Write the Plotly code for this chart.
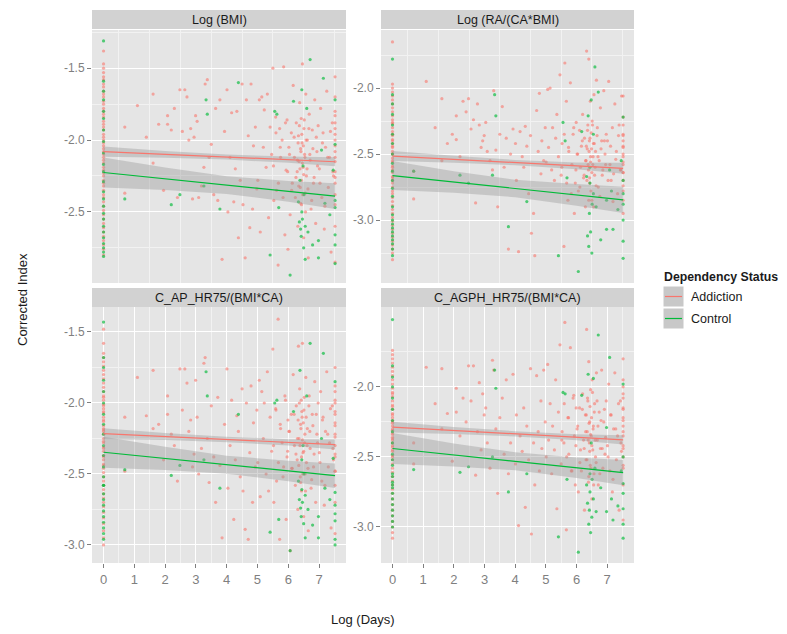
import plotly.graph_objects as go

W, H = 787, 634
OFF = 8  # page body margin of the browser
RED = "#F8766D"
GREEN = "#00BA38"
RED_PT = "rgba(248,118,109,0.6)"
GREEN_PT = "rgba(0,186,56,0.65)"
FONT = "Liberation Sans, Arial, sans-serif"

PANEL_TITLES = ["Log (BMI)", "Log (RA/(CA*BMI)", "C_AP_HR75/(BMI*CA)", "C_AGPH_HR75/(BMI*CA)"]
GROUPS = ["Addiction", "Control"]

# shared x (Log Days) of scattered subjects
A_X = [0.69, 0.69, 1.10, 1.39, 1.61, 1.61, 1.79, 1.95, 2.08, 2.08, 2.20, 2.30, 2.40, 2.48, 2.56, 2.64, 2.71, 2.77, 2.83, 2.89, 2.94, 2.99,
       3.04, 3.09, 3.18, 3.26, 3.30, 3.37, 3.43, 3.50, 3.58, 3.64, 3.71, 3.78, 3.85, 3.93,
       4.01, 4.04, 4.11, 4.16, 4.23, 4.28, 4.33, 4.38, 4.44, 4.50, 4.53, 4.60, 4.64, 4.70, 4.75, 4.79, 4.84, 4.87, 4.93, 4.98,
       5.01, 5.06, 5.09, 5.14, 5.19, 5.22, 5.28, 5.32, 5.36, 5.41, 5.46, 5.50, 5.53, 5.59, 5.62, 5.67, 5.72, 5.75, 5.80, 5.85, 5.89, 5.93, 5.96, 5.99,
       6.02, 6.06, 6.10, 6.13, 6.16, 6.20, 6.23, 6.26, 6.29, 6.31, 6.33, 6.35, 6.37, 6.39, 6.40, 6.42, 6.43, 6.45, 6.46, 6.48, 6.50, 6.51, 6.53, 6.55, 6.57, 6.59, 6.62, 6.65, 6.68, 6.71, 6.74, 6.78, 6.82, 6.86, 6.89, 6.93, 6.97,
       7.01, 7.05, 7.09, 7.13, 7.17, 7.21, 7.25, 7.30, 7.34, 7.39, 7.43, 7.47,
       7.52, 7.52, 7.52, 7.52, 7.52, 7.52, 7.52, 7.52, 7.52, 7.52, 7.52, 7.52]
# further addiction subjects in the dense late cluster
A_X2 = [5.52, 5.60, 5.68, 5.74, 5.83, 5.91, 5.98, 6.04, 6.11, 6.19, 6.25,
        6.30, 6.32, 6.34, 6.36, 6.38, 6.40, 6.41, 6.43, 6.44, 6.46, 6.47, 6.49, 6.50, 6.52, 6.54, 6.56, 6.58,
        6.61, 6.64, 6.67, 6.70, 6.76, 6.80, 6.84, 6.91, 6.95, 7.03, 7.11, 7.19, 7.28, 7.37, 7.45,
        7.52, 7.52, 7.52, 7.52, 7.52, 7.52, 7.52]
C_X = [0.69, 2.20, 2.48, 3.26, 3.33, 3.37, 3.78, 4.38, 5.41, 5.56, 5.63, 5.69, 6.06, 6.17, 6.33, 6.36, 6.38, 6.40, 6.42, 6.44, 6.44, 6.46, 6.48, 6.50, 6.51,
       6.55, 6.55, 6.60, 6.64, 6.71, 6.79, 6.98, 6.98, 7.08, 7.14, 7.19, 7.35, 7.46, 7.52, 7.52, 7.52, 7.52, 7.52, 7.52, 7.52]

# ---- Log (BMI)
BMI_A0 = [-1.38, -1.47, -1.50, -1.53, -1.56, -1.58, -1.61, -1.63, -1.66, -1.68, -1.70, -1.73, -1.75, -1.78, -1.80, -1.82, -1.84, -1.87, -1.89, -1.91, -1.93, -1.96, -1.98, -2.00, -2.02, -2.04, -2.06, -2.08, -2.10, -2.12, -2.14, -2.16, -2.19, -2.21, -2.23, -2.25, -2.28, -2.30, -2.32, -2.35, -2.38, -2.40, -2.43, -2.46, -2.49, -2.52, -2.55, -2.58, -2.61, -2.64, -2.67, -2.70, -2.73, -2.76, -2.80]
BMI_C0 = [-1.31, -1.59, -1.66, -1.72, -1.80, -1.85, -1.93, -2.01, -2.09, -2.17, -2.22, -2.29, -2.36, -2.41, -2.46, -2.51, -2.55, -2.60, -2.64, -2.68, -2.72, -2.75, -2.78, -2.81]
BMI_A = [-1.91, -2.37, -1.76, -1.98, -1.68, -2.16, -1.89, -2.35, -1.83, -1.89, -1.93, -1.78, -2.40, -1.65, -1.94, -1.65, -1.70, -2.00, -1.92, -2.41, -1.98, -1.83,
         -1.87, -2.40, -2.32, -2.19, -1.61, -1.58, -2.12, -2.03, -2.38, -1.78, -2.42, -1.72, -2.83, -1.94,
         -1.65, -2.50, -2.12, -1.81, -2.43, -2.20, -1.80, -2.68, -2.28, -1.61, -2.45, -2.82, -1.72, -1.97, -2.61, -1.61, -2.48, -2.04, -1.91, -2.34,
         -2.28, -1.72, -2.64, -1.70, -2.05, -1.79, -2.19, -1.68, -2.54, -1.91, -2.10, -1.50, -2.42, -1.84, -2.35, -2.87, -1.92, -2.12, -2.00, -1.49, -2.66, -2.21, -1.86, -2.76,
         -2.05, -2.52, -1.95, -2.30, -1.62, -2.12, -2.40, -1.88, -2.22, -2.60, -1.97, -2.15, -1.74, -2.33, -2.06, -1.85, -2.45, -2.02, -1.47, -2.19, -2.68, -1.92, -2.10, -2.37, -1.68, -2.25, -2.00, -2.82, -1.82, -2.14, -2.48, -1.93, -2.30, -1.72, -2.58, -2.08, -1.90,
         -2.20, -1.78, -2.40, -1.95, -2.62, -2.05, -1.66, -2.33, -2.12, -2.78, -1.88, -2.25,
         -1.56, -1.70, -1.83, -1.92, -2.00, -2.08, -2.15, -2.22, -2.30, -2.45, -2.60, -2.85]
BMI_A2 = [-2.18, -1.95, -2.30, -2.05, -2.40, -1.88, -2.22, -2.10, -2.35, -1.98, -2.26, -2.14, -2.02, -2.32, -1.90, -2.20, -2.44, -2.08, -2.28, -1.96, -2.16, -2.38, -2.04, -2.24, -1.86,
          -2.12, -2.50, -2.00, -2.20, -2.34, -1.92, -2.10, -2.42, -2.06, -2.26, -1.98, -2.18, -2.30, -2.02, -2.46, -2.12, -1.94, -2.22, -1.80, -1.88, -1.96, -2.04, -2.12, -2.26, -2.38]
BMI_C = [-2.41, -2.45, -2.38, -2.32, -1.72, -1.82, -2.48, -1.60, -2.80, -1.80, -1.82, -2.47, -2.94, -1.73, -2.43, -2.57, -2.28, -2.62, -2.67, -1.65, -2.50, -2.55, -2.18, -2.75, -2.38,
         -2.83, -2.60, -1.78, -2.64, -1.44, -2.73, -2.70, -2.82, -2.07, -1.57, -2.44, -2.52, -2.21, -1.72, -2.03, -2.42, -2.47, -2.66, -2.73, -2.86]

# ---- Log (RA/(CA*BMI))
RA_A0 = [-1.65, -1.97, -2.00, -2.03, -2.06, -2.09, -2.12, -2.15, -2.18, -2.21, -2.24, -2.27, -2.30, -2.33, -2.36, -2.39, -2.42, -2.45, -2.48, -2.50, -2.53, -2.56, -2.59, -2.62, -2.64, -2.67, -2.70, -2.72, -2.75, -2.78, -2.80, -2.83, -2.86, -2.89, -2.92, -2.95, -2.98, -3.01, -3.04, -3.07, -3.10, -3.13, -3.16, -3.19, -3.22, -3.25, -3.30, -2.26, -2.40, -2.55, -2.68, -2.44, -2.60, -2.50, -2.35]
RA_C0 = [-1.78, -2.05, -2.12, -2.20, -2.28, -2.35, -2.42, -2.50, -2.57, -2.63, -2.70, -2.76, -2.82, -2.90, -2.96, -3.00, -3.03, -3.06, -3.09, -3.12, -3.15, -3.18, -3.22, -3.27]
RA_A = [-2.63, -2.84, -1.95, -2.30, -2.08, -2.55, -2.42, -2.35, -2.21, -2.39, -2.52, -2.10, -2.18, -2.08, -2.31, -2.24, -2.87, -2.12, -2.28, -2.45, -2.40, -2.36,
        -2.26, -2.48, -2.55, -2.62, -2.02, -2.47, -2.90, -2.35, -2.14, -2.60, -2.38, -3.22, -2.50, -2.31,
        -2.42, -2.70, -3.24, -2.33, -2.52, -2.60, -2.29, -2.44, -2.80, -2.36, -3.10, -2.95, -3.27, -2.17, -2.48, -2.04, -2.65, -2.40, -2.55, -2.30,
        -2.56, -2.01, -2.45, -2.00, -2.62, -2.30, -2.70, -2.38, -2.20, -2.52, -1.90, -2.66, -2.42, -3.20, -1.81, -2.10, -2.85, -2.48, -1.96, -2.58, -2.35, -2.95, -2.72, -2.26,
        -2.50, -2.78, -2.32, -2.60, -2.44, -2.20, -2.68, -2.38, -2.90, -2.55, -1.72, -2.46, -2.28, -2.62, -1.78, -2.40, -2.72, -2.10, -2.52, -2.34, -2.85, -2.25, -2.58, -2.42, -2.05, -2.66, -2.48, -1.94, -2.30, -2.75, -2.55, -2.15, -2.40, -2.62, -2.02, -2.50, -2.35,
        -2.40, -1.95, -2.58, -2.70, -2.30, -2.65, -2.12, -2.48, -2.80, -2.28, -2.62, -2.06,
        -2.06, -2.22, -2.35, -2.45, -2.52, -2.58, -2.64, -2.70, -2.78, -2.85, -2.95, -2.40]
RA_A2 = [-2.60, -2.35, -2.72, -2.45, -2.80, -2.30, -2.62, -2.50, -2.75, -2.40, -2.66, -2.55, -2.44, -2.70, -2.32, -2.58, -2.85, -2.48, -2.68, -2.38, -2.56, -2.78, -2.46, -2.64, -2.28,
         -2.52, -2.90, -2.42, -2.60, -2.74, -2.36, -2.52, -2.82, -2.46, -2.66, -2.40, -2.58, -2.70, -2.44, -2.86, -2.54, -2.36, -2.62, -2.28, -2.36, -2.44, -2.50, -2.56, -2.64, -2.74]
RA_C = [-2.63, -2.66, -2.72, -2.66, -2.05, -2.21, -3.05, -2.86, -3.27, -2.26, -2.40, -2.68, -3.39, -2.33, -2.67, -3.12, -2.21, -3.20, -2.95, -2.72, -2.60, -3.09, -2.09, -3.25, -2.88,
        -2.35, -2.80, -1.84, -2.90, -2.03, -3.15, -3.07, -2.85, -2.62, -2.78, -3.07, -2.92, -2.55, -2.22, -2.80, -2.88, -3.00, -3.16, -3.29, -2.70]

# ---- C_AP_HR75/(BMI*CA)
AP_A0 = [-1.48, -1.58, -1.65, -1.68, -1.71, -1.74, -1.77, -1.80, -1.83, -1.86, -1.89, -1.92, -1.95, -1.98, -2.01, -2.04, -2.07, -2.10, -2.13, -2.16, -2.19, -2.22, -2.25, -2.28, -2.31, -2.34, -2.37, -2.40, -2.43, -2.46, -2.49, -2.52, -2.55, -2.58, -2.61, -2.64, -2.67, -2.70, -2.73, -2.77, -2.81, -2.85, -2.90, -2.95, -3.00, -2.06, -2.20, -2.32, -2.12, -2.27, -2.18, -2.02, -2.38, -2.44, -1.96]
AP_C0 = [-1.43, -1.68, -1.75, -1.84, -1.92, -2.00, -2.08, -2.15, -2.22, -2.30, -2.37, -2.45, -2.52, -2.58, -2.64, -2.68, -2.72, -2.76, -2.80, -2.84, -2.88, -2.92, -2.96, -2.58]
AP_A = [-2.10, -2.48, -1.82, -2.09, -1.77, -2.18, -2.15, -2.40, -1.95, -2.08, -2.22, -2.30, -2.55, -1.76, -2.05, -1.76, -1.86, -2.20, -2.12, -2.45, -2.36, -1.84,
        -2.10, -2.50, -2.32, -1.72, -1.68, -2.25, -2.56, -2.02, -2.38, -2.70, -1.96, -2.44, -2.95, -2.15,
        -1.76, -2.60, -2.30, -1.98, -2.82, -2.40, -2.09, -2.20, -2.52, -1.90, -2.62, -2.89, -2.00, -2.96, -2.35, -1.88, -2.70, -2.14, -2.45, -2.05,
        -2.42, -1.84, -2.66, -1.92, -2.25, -2.00, -2.50, -1.78, -2.62, -2.10, -2.34, -1.62, -2.70, -2.04, -2.55, -1.41, -2.96, -2.18, -2.28, -2.45, -1.95, -2.82, -2.38, -2.12,
        -2.20, -3.04, -2.08, -2.46, -1.80, -2.30, -2.58, -2.02, -2.40, -2.75, -1.60, -2.25, -1.90, -2.52, -2.15, -1.98, -2.62, -2.10, -1.58, -2.35, -2.80, -2.05, -2.28, -2.50, -1.82, -2.42, -2.18, -2.90, -1.95, -2.32, -2.60, -2.08, -2.45, -1.85, -2.70, -2.22, -2.00,
        -2.35, -1.92, -2.55, -2.10, -2.72, -2.20, -1.78, -2.45, -2.28, -2.88, -2.02, -2.40,
        -1.75, -1.88, -1.98, -2.06, -2.14, -2.22, -2.30, -2.38, -2.48, -2.58, -2.70, -2.92]
AP_A2 = [-2.30, -2.05, -2.42, -2.15, -2.52, -1.98, -2.34, -2.20, -2.46, -2.08, -2.36, -2.25, -2.12, -2.44, -2.00, -2.30, -2.56, -2.18, -2.38, -2.06, -2.26, -2.50, -2.14, -2.34, -1.96,
         -2.22, -2.62, -2.10, -2.30, -2.46, -2.02, -2.20, -2.54, -2.16, -2.36, -2.08, -2.28, -2.42, -2.12, -2.58, -2.22, -2.04, -2.32, -1.92, -2.00, -2.08, -2.16, -2.24, -2.36, -2.48]
AP_C = [-2.47, -2.51, -2.44, -2.40, -1.78, -1.95, -2.60, -2.08, -2.91, -2.00, -1.98, -2.82, -3.04, -2.06, -2.55, -2.68, -1.77, -2.74, -2.80, -2.40, -2.61, -2.70, -2.30, -2.85, -2.50,
        -2.95, -2.65, -1.95, -2.75, -1.58, -2.86, -2.80, -2.95, -2.25, -1.65, -2.60, -2.68, -2.39, -1.85, -2.63, -2.72, -2.78, -2.83, -2.96, -3.00]

# ---- C_AGPH_HR75/(BMI*CA)
AG_A0 = [-1.74, -1.77, -1.80, -1.83, -1.86, -1.89, -1.92, -1.95, -1.98, -2.01, -2.04, -2.07, -2.10, -2.13, -2.16, -2.19, -2.22, -2.25, -2.28, -2.31, -2.34, -2.37, -2.40, -2.43, -2.46, -2.49, -2.52, -2.55, -2.58, -2.61, -2.64, -2.67, -2.70, -2.73, -2.76, -2.80, -2.84, -2.88, -2.92, -2.96, -3.00, -3.04, -3.08, -2.20, -2.30, -2.36, -2.42, -2.26, -2.14, -2.33, -2.45, -2.05, -2.24, -2.38, -2.50]
AG_C0 = [-1.52, -1.85, -1.93, -2.00, -2.08, -2.16, -2.24, -2.32, -2.40, -2.48, -2.56, -2.62, -2.68, -2.72, -2.76, -2.80, -2.84, -2.88, -2.92, -2.96, -3.00, -2.64, -2.52, -2.70]
AG_A = [-2.55, -2.40, -1.86, -2.12, -1.87, -2.30, -2.19, -2.53, -2.01, -2.18, -2.35, -2.08, -2.25, -1.85, -2.10, -1.85, -2.63, -2.32, -1.97, -2.45, -2.05, -2.20,
        -2.15, -2.40, -2.58, -1.81, -1.88, -2.30, -2.76, -2.22, -2.08, -2.48, -1.95, -2.62, -2.40, -1.91,
        -2.55, -2.20, -2.99, -2.35, -2.46, -2.15, -2.86, -2.28, -2.52, -1.87, -3.05, -2.40, -2.70, -1.92, -2.32, -2.60, -2.10, -2.44, -1.88, -2.25,
        -2.50, -1.84, -2.38, -2.12, -2.62, -2.28, -2.45, -1.95, -2.87, -2.18, -1.70, -2.55, -2.32, -2.40, -1.54, -3.02, -2.22, -2.48, -1.72, -2.60, -2.08, -2.35, -2.70, -2.15,
        -2.30, -2.75, -2.15, -2.45, -2.60, -2.05, -2.38, -2.88, -2.20, -2.52, -1.59, -2.32, -2.10, -2.68, -1.82, -2.40, -2.25, -2.56, -2.02, -2.35, -2.80, -1.95, -2.45, -2.28, -2.62, -2.12, -2.50, -1.90, -2.38, -2.70, -2.18, -2.44, -1.88, -2.58, -2.25, -2.48, -2.10,
        -2.42, -1.98, -2.60, -2.20, -2.75, -2.30, -1.90, -2.52, -2.35, -2.88, -2.10, -2.46,
        -1.80, -1.95, -2.05, -2.15, -2.22, -2.28, -2.35, -2.42, -2.50, -2.58, -2.70, -2.95]
AG_A2 = [-2.38, -2.12, -2.50, -2.22, -2.60, -2.06, -2.42, -2.28, -2.54, -2.16, -2.44, -2.32, -2.20, -2.52, -2.08, -2.38, -2.64, -2.26, -2.46, -2.14, -2.34, -2.58, -2.22, -2.42, -2.04,
         -2.30, -2.70, -2.18, -2.38, -2.54, -2.10, -2.28, -2.62, -2.24, -2.44, -2.16, -2.36, -2.50, -2.20, -2.66, -2.30, -2.12, -2.40, -2.00, -2.08, -2.16, -2.24, -2.32, -2.44, -2.56]
AG_C = [-2.59, -2.61, -2.57, -2.50, -1.88, -2.01, -2.75, -2.62, -3.07, -2.04, -2.05, -2.66, -3.18, -2.06, -2.70, -2.83, -1.91, -2.98, -2.88, -2.62, -2.75, -3.04, -2.40, -2.93, -2.66,
        -1.94, -2.80, -2.58, -2.89, -1.63, -2.72, -2.89, -2.29, -1.79, -2.80, -2.95, -2.85, -2.60, -1.98, -2.69, -2.76, -2.87, -2.98, -3.08, -2.50]

# fitted lines (value at x=0 and at x=7.52) and confidence half-widths read at FIT_X
FIT_X = [0, 2, 4, 6, 7.52]
FIT_RED = [(-2.081, -2.151), (-2.515, -2.608), (-2.216, -2.293), (-2.287, -2.378)]
FIT_GREEN = [(-2.226, -2.390), (-2.663, -2.847), (-2.347, -2.512), (-2.440, -2.612)]
HW_RED = [[0.036, 0.024, 0.018, 0.022, 0.032], [0.038, 0.026, 0.020, 0.026, 0.042],
          [0.038, 0.025, 0.019, 0.022, 0.035], [0.038, 0.025, 0.019, 0.022, 0.033]]
HW_GREEN = [[0.105, 0.078, 0.062, 0.072, 0.090], [0.110, 0.082, 0.066, 0.082, 0.100],
            [0.110, 0.082, 0.064, 0.072, 0.086], [0.110, 0.082, 0.064, 0.074, 0.090]]

Y_RANGES = [(-2.995, -1.234), (-3.477, -1.56), (-3.127, -1.324), (-3.257, -1.43)]
Y_TICKS = [[-1.5, -2.0, -2.5], [-2.0, -2.5, -3.0], [-1.5, -2.0, -2.5, -3.0], [-2.0, -2.5, -3.0]]
Y_MINOR = [[-1.25, -1.75, -2.25, -2.75], [-1.75, -2.25, -2.75, -3.25],
           [-1.75, -2.25, -2.75], [-1.75, -2.25, -2.75, -3.25]]
X_TICKS = [0, 1, 2, 3, 4, 5, 6, 7]
X_MINOR = [0.5, 1.5, 2.5, 3.5, 4.5, 5.5, 6.5, 7.5]
X_RANGE = (-0.375, 7.875)

DATA = [(BMI_A0, BMI_C0, BMI_A, BMI_A2, BMI_C), (RA_A0, RA_C0, RA_A, RA_A2, RA_C),
        (AP_A0, AP_C0, AP_A, AP_A2, AP_C), (AG_A0, AG_C0, AG_A, AG_A2, AG_C)]

# layout geometry in window pixels
XDOM_PX = [(92, 346), (381, 634)]
YDOM_PX = [(30, 283), (307, 563)]
STRIP_PX = [(10, 29), (288, 307)]

FW, FH = W - OFF, H - OFF


def px_x(v):
    return (v - OFF) / FW


def px_y(v):
    return 1 - (v - OFF) / FH


fig = go.Figure()
layout = dict(width=FW, height=FH, margin=dict(l=0, r=0, t=0, b=0),
              paper_bgcolor="white", plot_bgcolor="#E5E5E5", showlegend=False,
              font=dict(family=FONT, size=12, color="#1A1A1A"))
shapes = []
annotations = []

for i in range(4):
    row, col = divmod(i, 2)
    sfx = "" if i == 0 else str(i + 1)
    xa, ya = "x" + sfx, "y" + sfx
    a0, c0, ay, ay2, cy = DATA[i]
    # points
    fig.add_trace(go.Scatter(x=[0] * len(a0) + A_X + A_X2, y=a0 + ay + ay2, mode="markers", xaxis=xa, yaxis=ya,
                             marker=dict(size=3.2, color=RED_PT, line=dict(width=0)), hoverinfo="skip"))
    fig.add_trace(go.Scatter(x=[0] * len(c0) + C_X, y=c0 + cy, mode="markers", xaxis=xa, yaxis=ya,
                             marker=dict(size=3.2, color=GREEN_PT, line=dict(width=0)), hoverinfo="skip"))
    # bands and lines
    for fit, hw, colr in ((FIT_RED[i], HW_RED[i], RED), (FIT_GREEN[i], HW_GREEN[i], GREEN)):
        y0, y1 = fit
        yl = [y0 + (y1 - y0) * x / FIT_X[-1] for x in FIT_X]
        up = [v + h for v, h in zip(yl, hw)]
        lo = [v - h for v, h in zip(yl, hw)]
        fig.add_trace(go.Scatter(x=FIT_X + FIT_X[::-1], y=up + lo[::-1], mode="lines", fill="toself",
                                 fillcolor="rgba(153,153,153,0.4)", line=dict(width=0), xaxis=xa, yaxis=ya,
                                 hoverinfo="skip"))
        fig.add_trace(go.Scatter(x=FIT_X, y=yl, mode="lines", line=dict(color=colr, width=1.2),
                                 xaxis=xa, yaxis=ya, hoverinfo="skip"))

    xd = XDOM_PX[col]
    yd = YDOM_PX[row]
    bottom = row == 1
    layout["xaxis" + sfx] = dict(
        domain=[px_x(xd[0]), px_x(xd[1])], range=list(X_RANGE), anchor=ya,
        tickvals=X_TICKS if bottom else [], ticktext=[str(t) for t in X_TICKS] if bottom else [],
        ticks="outside" if bottom else "", ticklen=4, tickcolor="#7F7F7F", tickwidth=1,
        tickfont=dict(size=13, color="#7F7F7F", family=FONT),
        showgrid=True, gridcolor="white", gridwidth=1.3, zeroline=False, showline=False,
        minor=dict(tickvals=X_MINOR, showgrid=True, gridcolor="#F2F2F2", gridwidth=0.6, ticks=""))
    layout["yaxis" + sfx] = dict(
        domain=[px_y(yd[1]), px_y(yd[0])], range=list(Y_RANGES[i]), anchor=xa,
        tickvals=Y_TICKS[i], ticktext=["%.1f" % t for t in Y_TICKS[i]],
        ticks="outside", ticklen=4, tickcolor="#7F7F7F", tickwidth=1,
        tickfont=dict(size=12, color="#7F7F7F", family=FONT),
        showgrid=True, gridcolor="white", gridwidth=1.3, zeroline=False, showline=False,
        minor=dict(tickvals=Y_MINOR[i], showgrid=True, gridcolor="#F2F2F2", gridwidth=0.6, ticks=""))
    # strip
    sp = STRIP_PX[row]
    shapes.append(dict(type="rect", xref="paper", yref="paper", x0=px_x(xd[0]), x1=px_x(xd[1]),
                       y0=px_y(sp[1]), y1=px_y(sp[0]), fillcolor="#D2D2D2", line=dict(width=0), layer="below"))
    annotations.append(dict(text=PANEL_TITLES[i], xref="paper", yref="paper",
                            x=px_x((xd[0] + xd[1]) / 2), y=px_y((sp[0] + sp[1]) / 2),
                            xanchor="center", yanchor="middle", showarrow=False,
                            font=dict(size=12.5, color="#1A1A1A", family=FONT)))

# axis titles
annotations.append(dict(text="Corrected Index", xref="paper", yref="paper", x=px_x(22), y=px_y(300),
                        textangle=-90, showarrow=False, xanchor="center", yanchor="middle",
                        font=dict(size=13, color="#1A1A1A", family=FONT)))
annotations.append(dict(text="Log (Days)", xref="paper", yref="paper", x=px_x(363), y=px_y(619),
                        showarrow=False, xanchor="center", yanchor="middle",
                        font=dict(size=13, color="#1A1A1A", family=FONT)))

# legend (drawn manually, ggplot style)
annotations.append(dict(text="<b>Dependency Status</b>", xref="paper", yref="paper", x=px_x(662), y=px_y(277),
                        showarrow=False, xanchor="left", yanchor="middle",
                        font=dict(size=12.3, color="#1A1A1A", family=FONT)))
for k, (name, colr) in enumerate(zip(GROUPS, [RED, GREEN])):
    top = 286 + k * 22
    shapes.append(dict(type="rect", xref="paper", yref="paper", x0=px_x(663), x1=px_x(684),
                       y0=px_y(top + 21), y1=px_y(top), fillcolor="#C8C8C8",
                       line=dict(color="white", width=1)))
    shapes.append(dict(type="line", xref="paper", yref="paper", x0=px_x(665), x1=px_x(682),
                       y0=px_y(top + 10.5), y1=px_y(top + 10.5), line=dict(color=colr, width=1.2)))
    annotations.append(dict(text=name, xref="paper", yref="paper", x=px_x(689), y=px_y(top + 10.5),
                            showarrow=False, xanchor="left", yanchor="middle",
                            font=dict(size=12.5, color="#1A1A1A", family=FONT)))

layout["shapes"] = shapes
layout["annotations"] = annotations
fig.update_layout(**layout)
fig.write_html("out.html")
